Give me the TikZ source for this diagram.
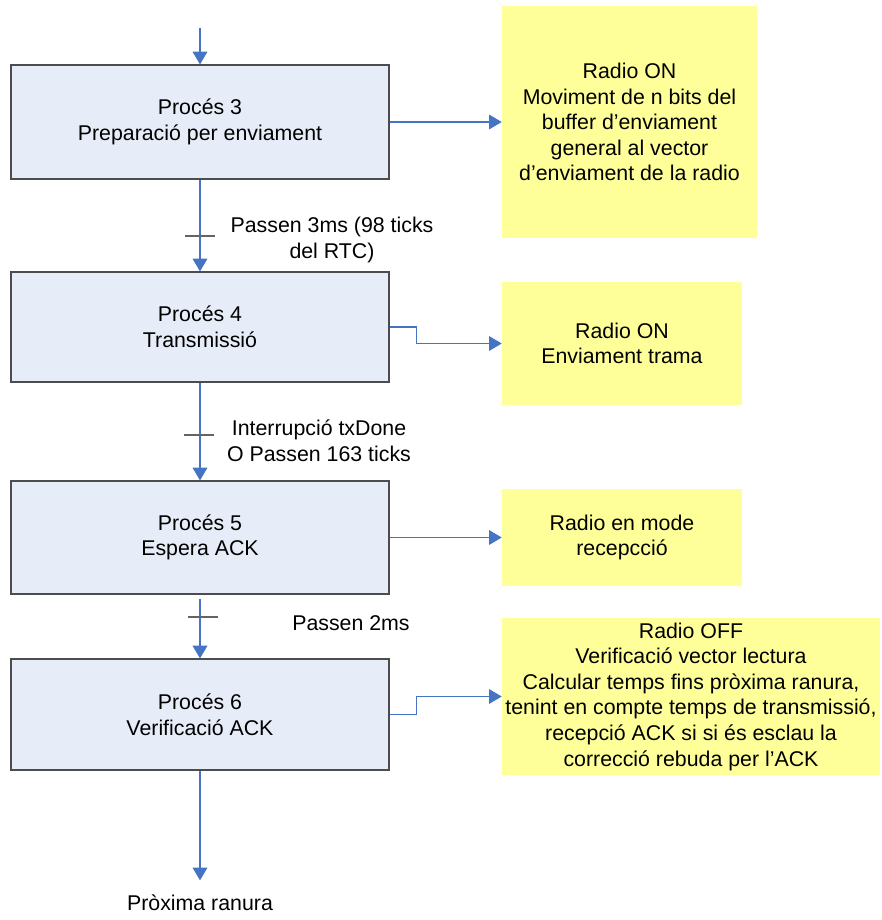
\documentclass[tikz,border=0pt]{standalone}
\usepackage{fontspec}
\setmainfont{Liberation Sans}
\usetikzlibrary{arrows.meta,calc}

\definecolor{procfill}{RGB}{231,237,248}
\definecolor{radiofill}{RGB}{255,255,153}
\definecolor{flowblue}{RGB}{70,116,196}
\definecolor{tickgray}{RGB}{100,100,100}

\tikzset{
  procbox/.style={draw=black!70, line width=0.9pt, fill=procfill, align=center,
    minimum width=283.5pt, inner sep=0pt},
  radiobox/.style={fill=radiofill, align=center, inner sep=0pt},
  flow/.style={draw=flowblue, line width=0.8pt, -{Triangle[length=9.5pt,width=11pt]}},
  tickmark/.style={draw=tickgray, line width=0.9pt},
  steplabel/.style={align=center, inner sep=0pt}
}

\begin{document}
\begin{tikzpicture}[x=0.75pt, y=-0.75pt, font=\fontsize{16}{19.2}\selectfont]
\useasboundingbox (0,0) rectangle (881,920);

% process boxes
\node[procbox, minimum height=85.5pt]  (p3) at (200,122)   {Procés 3\\Preparació per enviament};
\node[procbox, minimum height=82.5pt]  (p4) at (200,327)   {Procés 4\\Transmissió};
\node[procbox, minimum height=84.75pt] (p5) at (200,537.5) {Procés 5\\Espera ACK};
\node[procbox, minimum height=83.25pt] (p6) at (200,714.5) {Procés 6\\Verificació ACK};

% radio actions
\node[radiobox, minimum width=191.25pt, minimum height=174pt]   (r3) at (629.5,122)   {Radio ON\\Moviment de n bits del\\buffer d’enviament\\general al vector\\d’enviament de la radio};
\node[radiobox, minimum width=180pt,    minimum height=92.25pt] (r4) at (622,343.5)   {Radio ON\\Enviament trama};
\node[radiobox, minimum width=180pt,    minimum height=72.75pt] (r5) at (622,537.5)   {Radio en mode\\recepcció};
\node[radiobox, minimum width=283.5pt,  minimum height=117.75pt] (r6) at (691,696.5)  {Radio OFF\\Verificació vector lectura\\Calcular temps fins pròxima ranura,\\tenint en compte temps de transmissió,\\recepció ACK si si és esclau la\\correcció rebuda per l’ACK};

% transition labels
\node[steplabel] (l34) at (332,240) {Passen 3ms (98 ticks\\del RTC)};
\node[steplabel] (l45) at (319,441) {Interrupció txDone\\O Passen 163 ticks};
\node[steplabel] (l56) at (351,623) {Passen 2ms};

\coordinate (start) at (200,28);
\node[anchor=north, inner sep=0pt] (next) at (200,895) {Pròxima ranura};

% main flow
\draw[flow] (start) -- (p3.north);
\draw[flow] (p3.south) -- (p4.north);
\draw[flow] (p4.south) -- (p5.north);
\draw[flow, shorten <=3pt] (p5.south) -- (p6.north);
\draw[flow, shorten >=11pt] (p6.south) -- (next.north);

% transition bars
\draw[tickmark] (185,236) -- (215,236);
\draw[tickmark] (184,435) -- (214,435);
\draw[tickmark] (188,617) -- (218,617);

% side actions
\draw[flow] (p3.east) -- (r3.west);
\draw[flow] (p4.east) -- ++(27,0) |- (r4.west);
\draw[flow] (p5.east) -- (r5.west);
\draw[flow] (p6.east) -- ++(27,0) |- (r6.west);

\end{tikzpicture}
\end{document}
